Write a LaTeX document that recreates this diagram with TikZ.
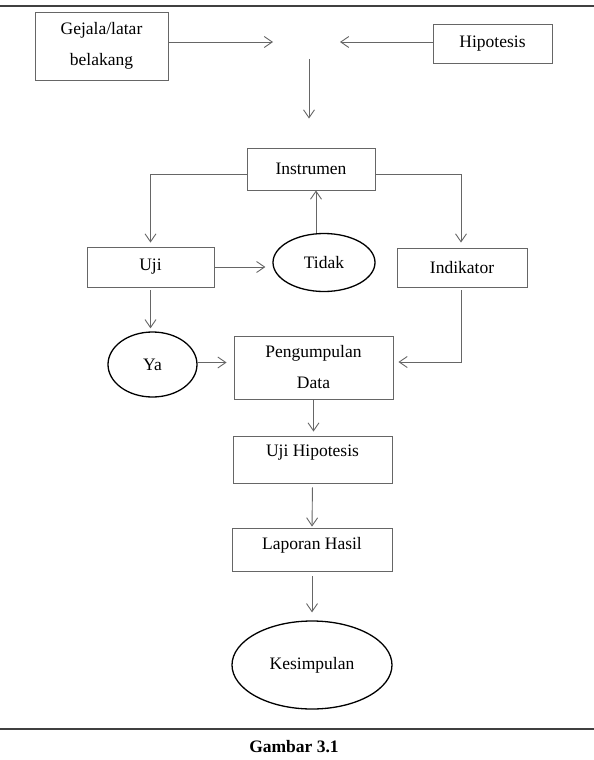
\documentclass[tikz,border=0pt]{standalone}
\usepackage{fontspec}
\setmainfont{Liberation Serif}
\usetikzlibrary{arrows.meta,shapes.geometric}

\begin{document}
\begin{tikzpicture}[x=1pt, y=-1pt,
  kotak/.style={draw=black!60, line width=0.9pt, inner sep=0pt, align=center, font=\fontsize{17.5}{31}\selectfont},
  bulat/.style={draw=black, line width=1.3pt, ellipse, inner sep=0pt, font=\fontsize{17.5}{31}\selectfont},
  panah/.style={draw=black!60, line width=0.9pt, -{Straight Barb[length=8pt,width=11pt]}},
  garis/.style={draw=black!75, line width=2pt}]
\useasboundingbox (0,0) rectangle (594,760);
\draw[garis] (0,6) -- (594,6);
\draw[garis] (0,729) -- (594,729);
\node[kotak, minimum width=133pt, minimum height=68pt] (gejala) at (101.5,46) {Gejala/latar\\belakang};
\node[kotak, minimum width=119pt, minimum height=39pt] (hipotesis) at (492.5,43.5) {Hipotesis};
\coordinate (kiri) at (273,42);
\coordinate (kanan) at (340,42);
\coordinate (bawah) at (309,59);
\node[kotak, minimum width=128pt, minimum height=42pt] (instrumen) at (311,169) {Instrumen};
\node[kotak, minimum width=127pt, minimum height=40pt] (uji) at (150.5,267) {Uji};
\node[bulat, minimum width=102pt, minimum height=58pt] (tidak) at (324,262.5) {Tidak};
\node[kotak, minimum width=130pt, minimum height=39pt] (indikator) at (462,267.5) {Indikator};
\node[bulat, minimum width=89pt, minimum height=65pt] (ya) at (152.5,364.5) {Ya};
\node[kotak, minimum width=159pt, minimum height=63pt] (pengumpulan) at (313.5,367.5) {Pengumpulan\\Data};
\node[kotak, minimum width=159pt, minimum height=47pt, text depth=17pt] (ujihipotesis) at (312.5,459.5) {Uji Hipotesis};
\node[kotak, minimum width=160pt, minimum height=43pt, text depth=12.8pt] (laporan) at (312,549.5) {Laporan Hasil};
\node[bulat, minimum width=160pt, minimum height=88pt] (kesimpulan) at (312,665) {Kesimpulan};
\node[font=\fontsize{17.5}{20}\selectfont\bfseries] (gambar) at (294,747) {Gambar 3.1};
\draw[panah] ([yshift=4pt]gejala.east) -- (kiri);
\draw[panah] ([yshift=1.5pt]hipotesis.west) -- (kanan);
\draw[panah, shorten >=29pt] (bawah) -- (bawah |- instrumen.north);
\draw[panah, shorten >=4pt] ([yshift=-5pt]instrumen.west) -| (uji.north);
\draw[panah, shorten >=5pt] ([yshift=-5pt]instrumen.east) -| ([xshift=-1pt]indikator.north);
\draw[panah, shorten >=7pt] (uji.east) -- (uji.east -| tidak.west);
\draw[panah] ([xshift=-8pt]tidak.north) -- ([xshift=-8pt]tidak.north |- instrumen.south);
\draw[panah, shorten <=3pt, shorten >=3pt] (uji.south) -- (uji.south |- ya.north);
\draw[panah, shorten >=7pt] ([yshift=2pt]ya.east) -- ([yshift=2pt]ya.east -| pengumpulan.west);
\draw[panah, shorten <=3pt, shorten >=5pt] ([xshift=-1pt]indikator.south) |- ([yshift=5.5pt]pengumpulan.east);
\draw[panah, shorten >=4pt] (pengumpulan.south) -- (pengumpulan.south |- ujihipotesis.north);
\draw[panah, shorten <=4pt, shorten >=1pt] (ujihipotesis.south) -- (laporan.north);
\draw[panah, shorten <=5pt, shorten >=8pt] (laporan.south) -- (kesimpulan.north);
\end{tikzpicture}
\end{document}
